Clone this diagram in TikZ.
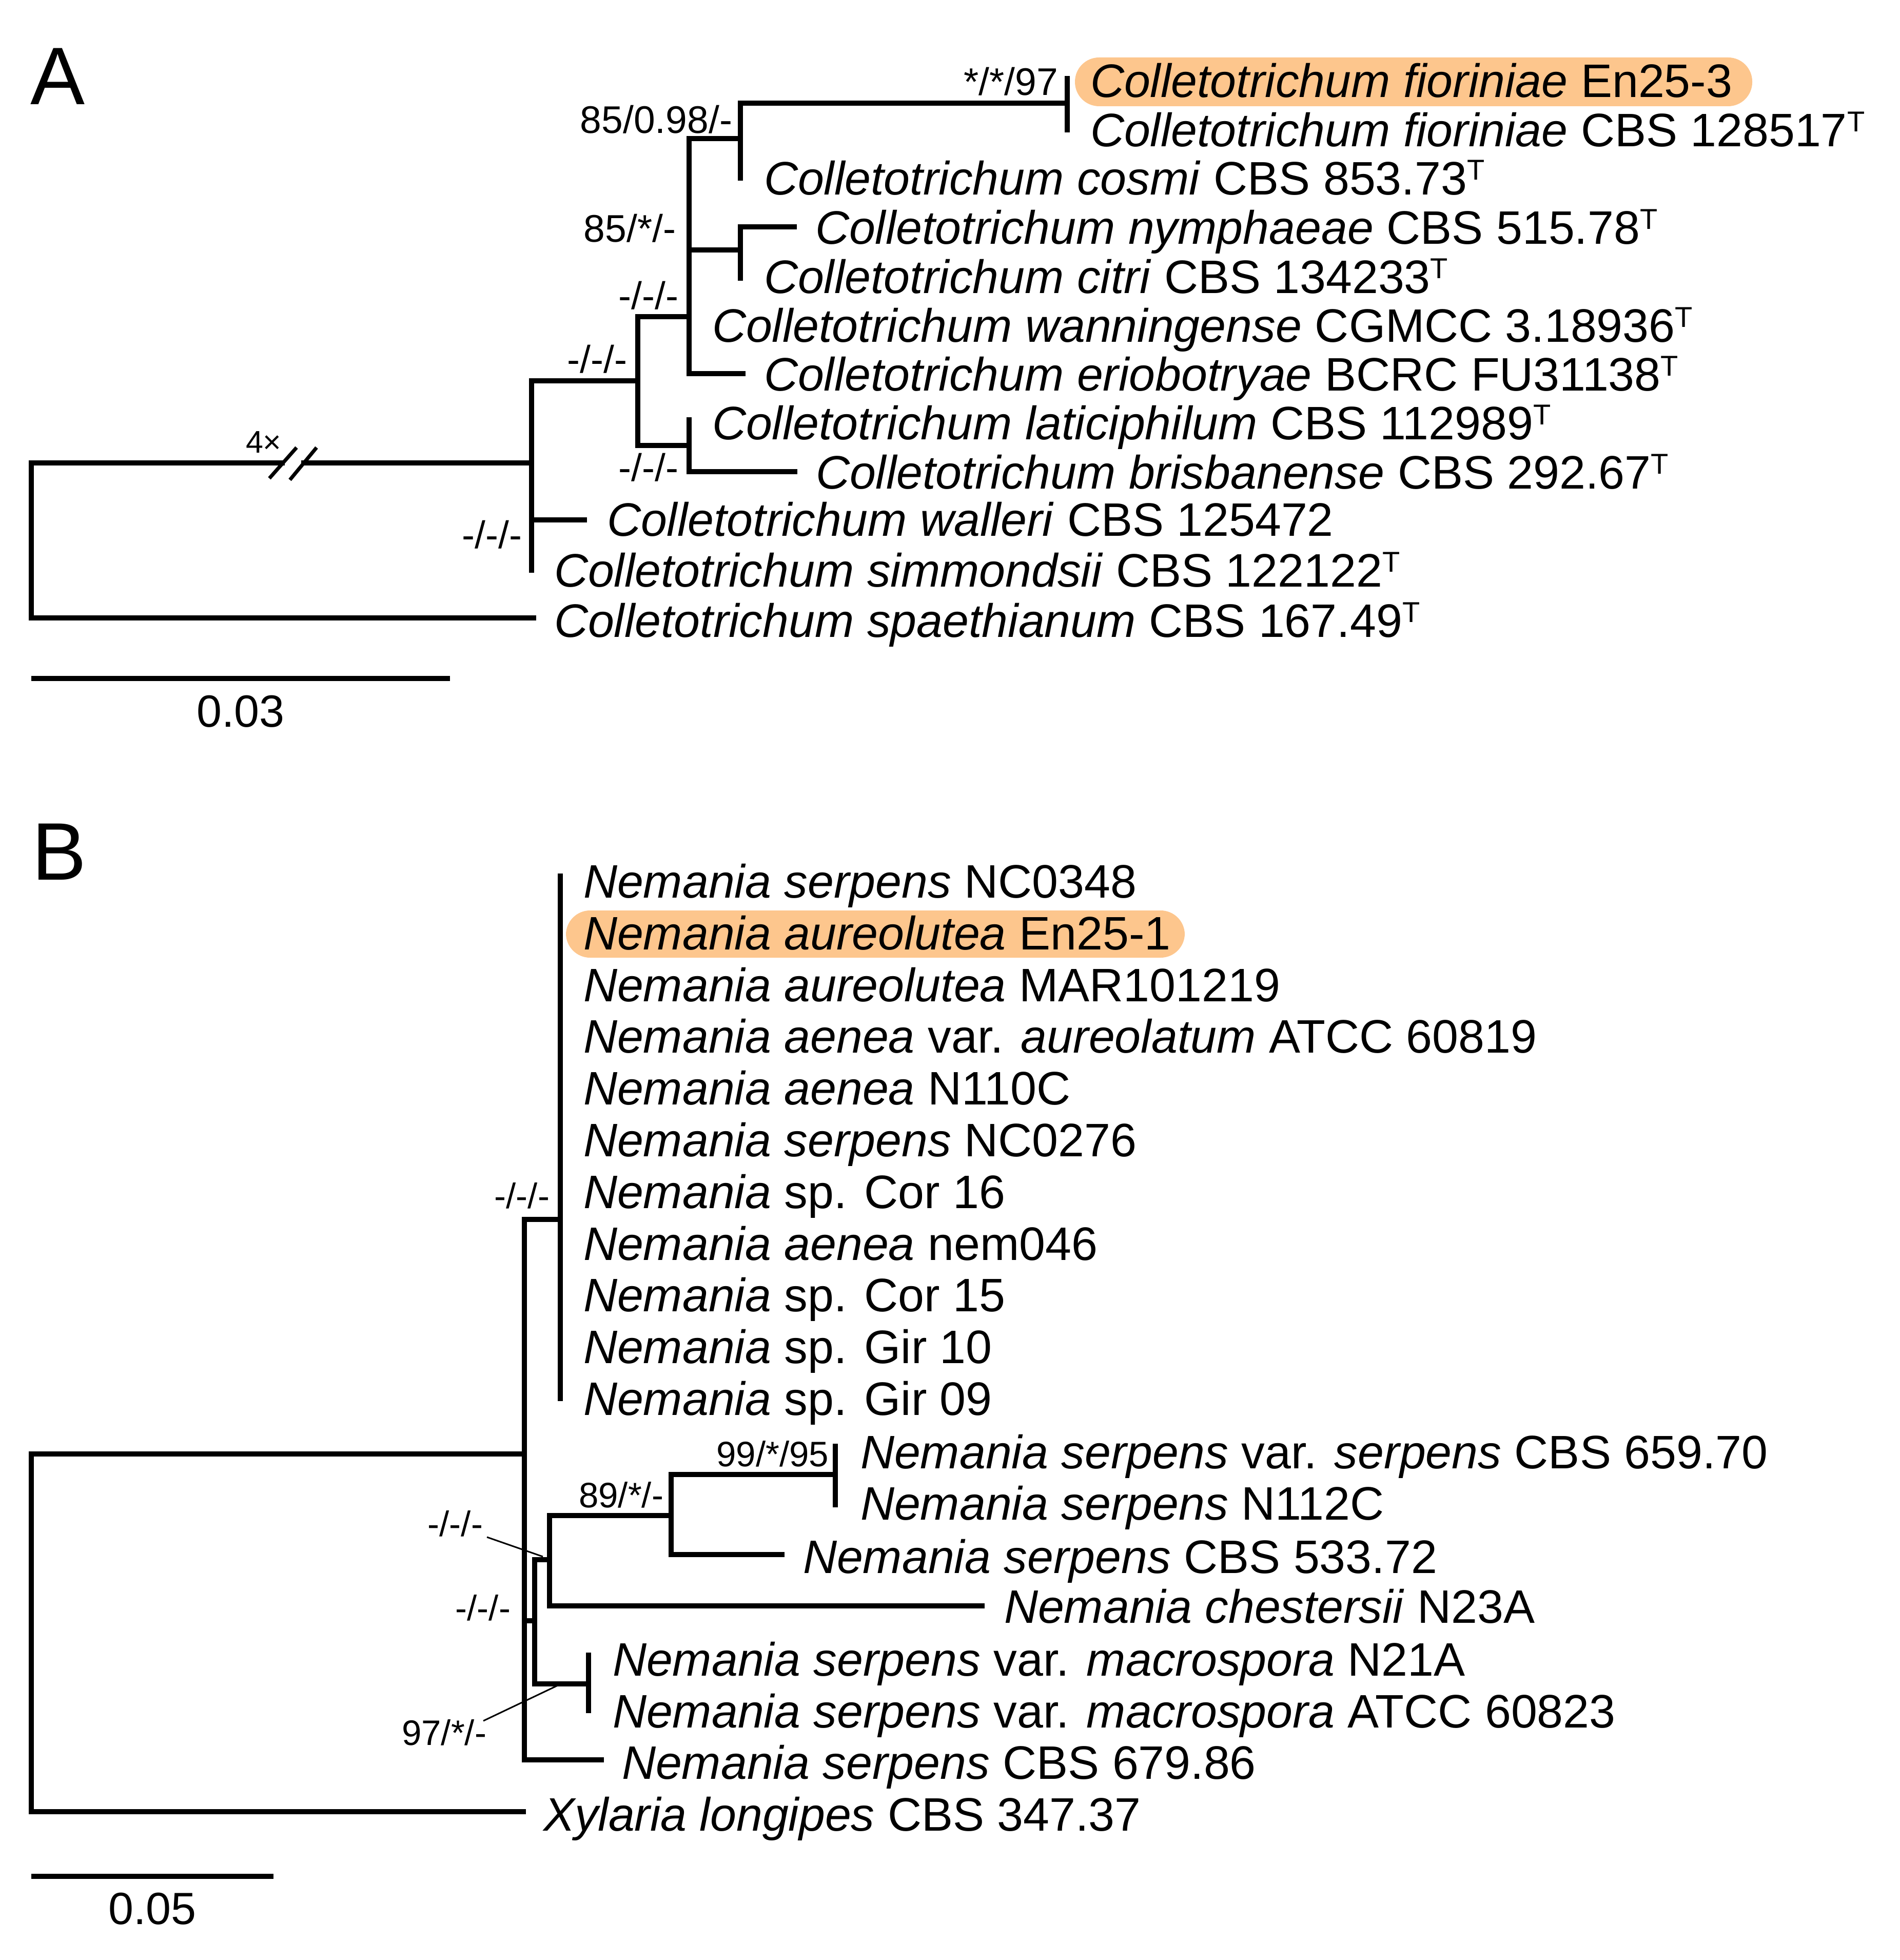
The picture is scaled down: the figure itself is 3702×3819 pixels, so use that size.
\documentclass[tikz,border=0pt]{standalone}
\usepackage{fontspec}
\setmainfont{Liberation Sans}
\definecolor{peach}{RGB}{253,198,141}
\newcommand{\supT}{\raisebox{5.8pt}{\fontsize{11.2pt}{11.2pt}\selectfont T}}
\begin{document}
\begin{tikzpicture}[x=0.2pt,y=-0.2pt,
  br/.style={line width=2pt, line cap=rect},
  bar/.style={line width=2pt, line cap=butt},
  slash/.style={line width=1.4pt},
  taxon/.style={anchor=base west, inner sep=0pt, font=\fontsize{18.3pt}{20pt}\selectfont},
  supA/.style={anchor=base east, inner sep=0pt, font=\fontsize{15pt}{16pt}\selectfont},
  supB/.style={anchor=base east, inner sep=0pt, font=\fontsize{13.8pt}{15pt}\selectfont},
  leader/.style={line width=0.6pt},
  hl/.style={fill=peach, rounded corners=9.4pt},
  panel/.style={anchor=base west, inner sep=0pt, font=\fontsize{31.8pt}{34pt}\selectfont},
  scalelbl/.style={anchor=base, inner sep=0pt, font=\fontsize{17.6pt}{19pt}\selectfont}]
\useasboundingbox (0,0) rectangle (3702,3819);

% ---------------- Panel A ----------------
\node[panel] (pA) at (58,204) {A};
\fill[hl] (2095,112) rectangle (3415,207);

\coordinate (rA) at (61,1053);
\coordinate (brkL) at (550,902);
\coordinate (brkR) at (592,902);
\coordinate (n1) at (1036,902);
\coordinate (tSpa) at (1040,1204);
\coordinate (tWal) at (1139,1013);
\coordinate (tSim) at (1036,1111);
\coordinate (n2) at (1243,742);
\coordinate (n3) at (1343,617);
\coordinate (n4) at (1343,868);
\coordinate (tLat) at (1343,818);
\coordinate (tBri) at (1549,919);
\coordinate (n5) at (1443,270);
\coordinate (n6) at (1443,487);
\coordinate (tWan) at (1343,637);
\coordinate (tEri) at (1448,728);
\coordinate (nF) at (2080,201);
\coordinate (tCos) at (1443,347);
\coordinate (tF1) at (2080,153);
\coordinate (tF2) at (2080,253);
\coordinate (tNym) at (1548,442);
\coordinate (tCit) at (1443,542);

\draw[br] (rA) |- (brkL);
\draw[br] (brkR) -- (n1);
\draw[br] (rA) |- (tSpa);
\draw[br] (n1) |- (tWal);
\draw[br] (n1) |- (tSim);
\draw[br] (n1) |- (n2);
\draw[br] (n2) |- (n3);
\draw[br] (n2) |- (n4);
\draw[br] (n4) |- (tLat);
\draw[br] (n4) |- (tBri);
\draw[br] (n3) |- (n5);
\draw[br] (n3) |- (n6);
\draw[br] (n3) |- (tWan);
\draw[br] (n3) |- (tEri);
\draw[br] (n5) |- (nF);
\draw[br] (n5) |- (tCos);
\draw[br] (nF) |- (tF1);
\draw[br] (nF) |- (tF2);
\draw[br] (n6) |- (tNym);
\draw[br] (n6) |- (tCit);

% break marks
\coordinate (sl1a) at (525,932);
\coordinate (sl1b) at (578,872);
\coordinate (sl2a) at (565,935);
\coordinate (sl2b) at (617,872);
\draw[slash] (sl1a) -- (sl1b);
\draw[slash] (sl2a) -- (sl2b);
\node[anchor=base west, inner sep=0pt, font=\fontsize{12.2pt}{13pt}\selectfont] (s8) at (478,883) {4×};

% taxa A
\node[taxon] (xF1) at (2124,190) {\textit{Colletotrichum fioriniae} En25-3};
\node[taxon] (xF2) at (2124,286) {\textit{Colletotrichum fioriniae} CBS 128517\supT};
\node[taxon] (xCos) at (1488,380) {\textit{Colletotrichum cosmi} CBS 853.73\supT};
\node[taxon] (xNym) at (1588,476) {\textit{Colletotrichum nymphaeae} CBS 515.78\supT};
\node[taxon] (xCit) at (1488,572) {\textit{Colletotrichum citri} CBS 134233\supT};
\node[taxon] (xWan) at (1387,667) {\textit{Colletotrichum wanningense} CGMCC 3.18936\supT};
\node[taxon] (xEri) at (1488,762) {\textit{Colletotrichum eriobotryae} BCRC FU31138\supT};
\node[taxon] (xLat) at (1387,857) {\textit{Colletotrichum laticiphilum} CBS 112989\supT};
\node[taxon] (xBri) at (1589,953) {\textit{Colletotrichum brisbanense} CBS 292.67\supT};
\node[taxon] (xWal) at (1182,1045) {\textit{Colletotrichum walleri} CBS 125472};
\node[taxon] (xSim) at (1079,1144) {\textit{Colletotrichum simmondsii} CBS 122122\supT};
\node[taxon] (xSpa) at (1079,1242) {\textit{Colletotrichum spaethianum} CBS 167.49\supT};

% support A
\node[supA] (s1) at (2063,186) {*/*/97};
\node[supA] (s2) at (1428,260) {85/0.98/-};
\node[supA] (s3) at (1318,472) {85/*/-};
\node[supA] (s4) at (1323,603) {-/-/-};
\node[supA] (s5) at (1223,727) {-/-/-};
\node[supA] (s6) at (1323,938) {-/-/-};
\node[supA] (s7) at (1018,1069) {-/-/-};

% scale A
\coordinate (sa1) at (61,1322);
\coordinate (sa2) at (877,1322);
\draw[bar] (sa1) -- (sa2);
\node[scalelbl] (la) at (469,1416) {0.03};

% ---------------- Panel B ----------------
\node[panel] (pB) at (61,1714) {B};
\fill[hl] (1103,1774) rectangle (2309,1866);

\coordinate (rB) at (61,3180);
\coordinate (m1) at (1022,2833);
\coordinate (tXyl) at (1020,3530);
\coordinate (mBig) at (1092,2376);
\coordinate (bTop) at (1092,1707);
\coordinate (bBot) at (1092,2725);
\coordinate (m2) at (1042,3158);
\coordinate (t679) at (1172,3429);
\coordinate (m3) at (1071,3039);
\coordinate (mMac) at (1147,3281);
\coordinate (tMac1) at (1147,3225);
\coordinate (tMac2) at (1147,3333);
\coordinate (m4) at (1308,2953);
\coordinate (tChe) at (1914,3129);
\coordinate (m5) at (1628,2873);
\coordinate (t533) at (1524,3029);
\coordinate (t659) at (1628,2818);
\coordinate (t112) at (1628,2932);

\draw[br] (rB) |- (m1);
\draw[br] (rB) |- (tXyl);
\draw[br] (m1) |- (mBig);
\draw[br] (m1) |- (m2);
\draw[br] (m1) |- (t679);
\draw[br] (mBig) |- (bTop);
\draw[br] (mBig) |- (bBot);
\draw[br] (m2) |- (m3);
\draw[br] (m2) |- (mMac);
\draw[br] (mMac) |- (tMac1);
\draw[br] (mMac) |- (tMac2);
\draw[br] (m3) |- (m4);
\draw[br] (m3) |- (tChe);
\draw[br] (m4) |- (m5);
\draw[br] (m4) |- (t533);
\draw[br] (m5) |- (t659);
\draw[br] (m5) |- (t112);

% taxa B
\node[taxon] (y1) at (1136,1749) {\textit{Nemania serpens} NC0348};
\node[taxon] (y2) at (1136,1850) {\textit{Nemania aureolutea} En25-1};
\node[taxon] (y3) at (1136,1951) {\textit{Nemania aureolutea} MAR101219};
\node[taxon] (y4) at (1136,2051) {\textit{Nemania aenea} var. \textit{aureolatum} ATCC 60819};
\node[taxon] (y5) at (1136,2152) {\textit{Nemania aenea} N110C};
\node[taxon] (y6) at (1136,2253) {\textit{Nemania serpens} NC0276};
\node[taxon] (y7) at (1136,2354) {\textit{Nemania} sp. Cor 16};
\node[taxon] (y8) at (1136,2455) {\textit{Nemania aenea} nem046};
\node[taxon] (y9) at (1136,2555) {\textit{Nemania} sp. Cor 15};
\node[taxon] (y10) at (1136,2656) {\textit{Nemania} sp. Gir 10};
\node[taxon] (y11) at (1136,2757) {\textit{Nemania} sp. Gir 09};
\node[taxon] (y12) at (1676,2861) {\textit{Nemania serpens} var. \textit{serpens} CBS 659.70};
\node[taxon] (y13) at (1676,2961) {\textit{Nemania serpens} N112C};
\node[taxon] (y14) at (1564,3065) {\textit{Nemania serpens} CBS 533.72};
\node[taxon] (y15) at (1956,3162) {\textit{Nemania chestersii} N23A};
\node[taxon] (y16) at (1193,3265) {\textit{Nemania serpens} var. \textit{macrospora} N21A};
\node[taxon] (y17) at (1193,3366) {\textit{Nemania serpens} var. \textit{macrospora} ATCC 60823};
\node[taxon] (y18) at (1211,3466) {\textit{Nemania serpens} CBS 679.86};
\node[taxon] (y19) at (1058,3567) {\textit{Xylaria longipes} CBS 347.37};

% support B
\node[supB] (u1) at (1072,2354) {-/-/-};
\node[supB] (u2) at (1616,2857) {99/*/95};
\node[supB] (u3) at (1294,2937) {89/*/-};
\node[supB] (u4) at (942,2993) {-/-/-};
\node[supB] (u5) at (996,3157) {-/-/-};
\node[supB] (u6) at (949,3400) {97/*/-};
\coordinate (k4a) at (949,2995);
\coordinate (k4b) at (1058,3033);
\coordinate (k6a) at (942,3353);
\coordinate (k6b) at (1089,3283);
\draw[leader] (k4a) -- (k4b);
\draw[leader] (k6a) -- (k6b);

% scale B
\coordinate (sb1) at (61,3656);
\coordinate (sb2) at (533,3656);
\draw[bar] (sb1) -- (sb2);
\node[scalelbl] (lb) at (297,3749) {0.05};
\end{tikzpicture}
\end{document}
